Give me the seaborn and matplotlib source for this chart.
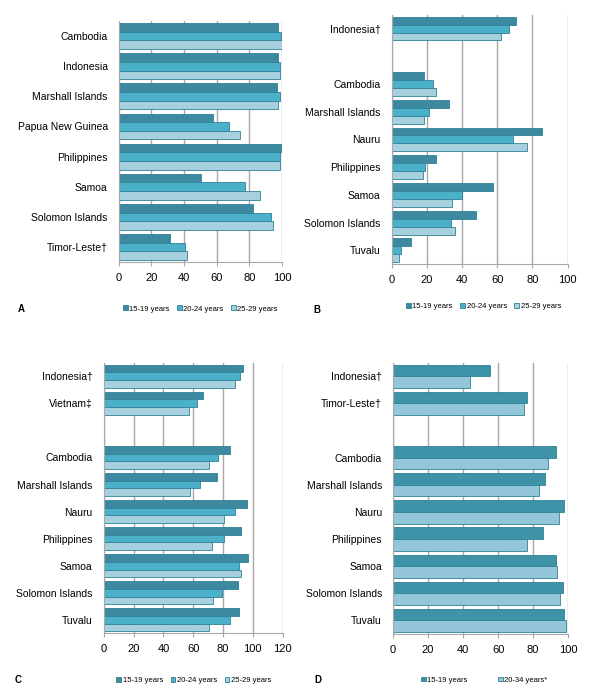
import matplotlib.pyplot as plt
import numpy as np
import pandas as pd
import seaborn as sns

FIGNAME = "out"

# ---- data ----
countries_a = ["Cambodia", "Indonesia", "Marshall Islands", "Papua New Guinea",
               "Philippines", "Samoa", "Solomon Islands", "Timor-Leste\u2020"]
a_15_19 = [97.7, 97.3, 96.7, 57.5, 99.8, 50.3, 82.2, 31.5]
a_20_24 = [99.4, 99.0, 98.6, 67.5, 98.8, 77.1, 93.0, 40.7]
a_25_29 = [99.8, 99.0, 97.3, 74.2, 98.8, 86.3, 94.3, 41.5]

countries_b = ["Indonesia\u2020", " ", "Cambodia", "Marshall Islands", "Nauru",
               "Philippines", "Samoa", "Solomon Islands", "Tuvalu"]
b_15_19 = [70.6, np.nan, 18.2, 32.4, 85.2, 24.9, 57.7, 47.8, 11.0]
b_20_24 = [66.8, np.nan, 23.3, 21.0, 68.9, 18.8, 39.8, 33.8, 5.5]
b_25_29 = [62.4, np.nan, 25.0, 18.6, 77.0, 18.0, 34.0, 35.7, 4.0]

countries_c = ["Indonesia\u2020", "Vietnam\u2021", " ", "Cambodia", "Marshall Islands",
               "Nauru", "Philippines", "Samoa", "Solomon Islands", "Tuvalu"]
c_15_19 = [93.1, 66.9, np.nan, 84.8, 76.3, 96.3, 91.8, 96.5, 90.4, 90.7]
c_20_24 = [91.3, 62.8, np.nan, 76.5, 64.4, 87.8, 80.8, 90.9, 79.4, 84.5]
c_25_29 = [88.0, 57.4, np.nan, 70.7, 58.1, 80.8, 72.7, 92.3, 73.4, 70.7]

countries_d = ["Indonesia\u2020", "Timor-Leste\u2020", " ", "Cambodia", "Marshall Islands",
               "Nauru", "Philippines", "Samoa", "Solomon Islands", "Tuvalu"]
d_15_19 = [55.4, 76.2, np.nan, 93.0, 86.5, 97.7, 85.9, 93.0, 97.3, 97.7]
d_20_34 = [44.0, 74.9, np.nan, 88.4, 83.6, 94.5, 76.2, 93.7, 95.4, 98.5]

groups3 = ["15-19 years", "20-24 years", "25-29 years"]
groups2 = ["15-19 years", "20-34 years*"]

pal3 = ["#3d8aa0", "#4bb0c9", "#a6d0dd"]
pal2 = ["#3f93a9", "#93c6d8"]

plt.rcParams['font.family'] = ['Liberation Sans', 'DejaVu Sans']


def to_long(countries, series, names):
    df = pd.DataFrame({"country": countries})
    for name, vals in zip(names, series):
        df[name] = vals
    return df.melt(id_vars="country", var_name="group", value_name="value")


def panel(ax, countries, series, names, palette, xmax, letter, leg_xy, letter_xy, colspace):
    df = to_long(countries, series, names)
    sns.barplot(data=df, y="country", x="value", hue="group", order=countries,
                hue_order=names, palette=palette, orient="h", width=0.86,
                saturation=1, edgecolor="#2f8197", linewidth=0.6, ax=ax, legend=True)
    ax.set_xlim(0, xmax)
    ax.set_xticks(np.arange(0, xmax + 1, 20))
    ax.set_xlabel("")
    ax.set_ylabel("")
    ax.xaxis.grid(True, color="#a8a8a8", lw=1)
    ax.set_axisbelow(True)
    for s in ["top", "right"]:
        ax.spines[s].set_visible(False)
    for s in ["left", "bottom"]:
        ax.spines[s].set_color("#a8a8a8")
    ax.tick_params(axis="y", length=0, labelsize=7.5, pad=8)
    ax.tick_params(axis="x", length=3, color="#a8a8a8", labelsize=8, pad=5)
    ax.get_legend().remove()
    handles, labels = ax.get_legend_handles_labels()
    fig.legend(handles, labels, loc="center", bbox_to_anchor=leg_xy, ncol=len(names),
               frameon=False, fontsize=5.5, handlelength=0.6, handleheight=0.6,
               handletextpad=0.2, columnspacing=colspace)
    fig.text(letter_xy[0], letter_xy[1], letter, fontsize=7, fontweight="bold",
             ha="left", va="center")


fig = plt.figure(figsize=(6, 6.99), dpi=100)
ax_a = fig.add_axes([0.198, 0.625, 0.272, 0.345])
ax_b = fig.add_axes([0.653, 0.622, 0.293, 0.357])
ax_c = fig.add_axes([0.173, 0.094, 0.298, 0.387])
ax_d = fig.add_axes([0.655, 0.093, 0.292, 0.388])

panel(ax_a, countries_a, [a_15_19, a_20_24, a_25_29], groups3, pal3, 100, "A",
      (0.334, 0.558), (0.030, 0.558), 1.0)
panel(ax_b, countries_b, [b_15_19, b_20_24, b_25_29], groups3, pal3, 100, "B",
      (0.806, 0.561), (0.522, 0.557), 1.0)
panel(ax_c, countries_c, [c_15_19, c_20_24, c_25_29], groups3, pal3, 120, "C",
      (0.323, 0.026), (0.025, 0.027), 1.0)
panel(ax_d, countries_d, [d_15_19, d_20_34], groups2, pal2, 100, "D",
      (0.807, 0.027), (0.524, 0.027), 4.0)

plt.savefig(FIGNAME + ".png", dpi=100)
